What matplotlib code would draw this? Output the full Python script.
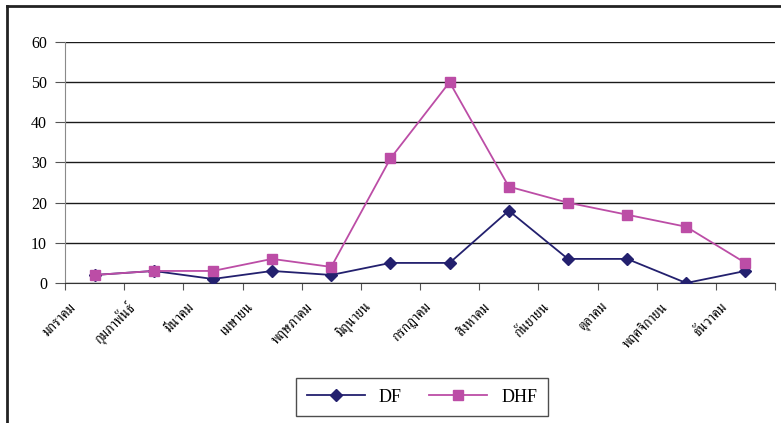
import matplotlib
matplotlib.use("Agg")
import matplotlib.pyplot as plt
from matplotlib.lines import Line2D

months = ["มกราคม", "กุมภาพันธ์", "มีนาคม", "เมษายน", "พฤษภาคม", "มิถุนายน",
          "กรกฎาคม", "สิงหาคม", "กันยายน", "ตุลาคม", "พฤศจิกายน", "ธันวาคม"]
df_cases = [2, 3, 1, 3, 2, 5, 5, 18, 6, 6, 0, 3]
dhf_cases = [2, 3, 3, 6, 4, 31, 50, 24, 20, 17, 14, 5]
y_ticks = [0, 10, 20, 30, 40, 50, 60]

serif = ["Liberation Serif", "DejaVu Serif"]
thai = ["FreeSerif", "Loma", "Liberation Serif", "DejaVu Sans"]

W, H = 781, 423
fig = plt.figure(figsize=(W / 100, H / 100), dpi=100)
ax = fig.add_axes([65 / W, 1 - 283 / H, 710 / W, 241 / H])

x = list(range(len(months)))
df_color = "#23206E"
dhf_color = "#BC4DA6"
ax.plot(x, df_cases, color=df_color, lw=1.3, marker="D", ms=6.5,
        mfc=df_color, mec=df_color, label="DF", zorder=3)
ax.plot(x, dhf_cases, color=dhf_color, lw=1.3, marker="s", ms=7.5,
        mfc=dhf_color, mec=dhf_color, label="DHF", zorder=4)

ax.set_xlim(-0.5, len(months) - 0.5)
ax.set_ylim(0, 60)
ax.set_yticks(y_ticks)
ax.set_yticklabels([str(v) for v in y_ticks], family=serif, fontsize=11.5)
ax.yaxis.grid(True, color="#1a1a1a", lw=1.0)
ax.set_axisbelow(True)

# tick marks sit on category boundaries, month names under each category
ax.set_xticks([i - 0.5 for i in range(len(months) + 1)])
ax.set_xticklabels([""] * (len(months) + 1))
ax.tick_params(axis="x", length=5, color="#555555", direction="out")
ax.tick_params(axis="y", length=7, color="#555555", direction="out", pad=6)
for i, name in enumerate(months):
    ax.annotate(name, xy=(i, 0), xycoords=("data", "axes fraction"),
                xytext=(-15, -16), textcoords="offset points",
                rotation=45, ha="right", va="center", rotation_mode="anchor",
                family=thai, fontsize=10)

for s in ["top", "right"]:
    ax.spines[s].set_visible(False)
ax.spines["left"].set_color("#8a8a8a")
ax.spines["bottom"].set_color("#333333")

# outer chart frame (left and top edges)
fig.add_artist(Line2D([7.5 / W, 7.5 / W], [0, 1 - 6 / H], transform=fig.transFigure,
                      color="#222222", lw=2))
fig.add_artist(Line2D([7.5 / W, 1], [1 - 6 / H, 1 - 6 / H], transform=fig.transFigure,
                      color="#222222", lw=2))

leg = fig.legend(loc="center", bbox_to_anchor=(422 / W, 1 - 397 / H),
                 ncol=2, frameon=True, fancybox=False, edgecolor="#222222",
                 prop={"family": serif, "size": 13}, handlelength=3.2,
                 columnspacing=1.5, borderpad=0.6)
leg.get_frame().set_linewidth(1.0)

fig.savefig("out.png", dpi=100)
